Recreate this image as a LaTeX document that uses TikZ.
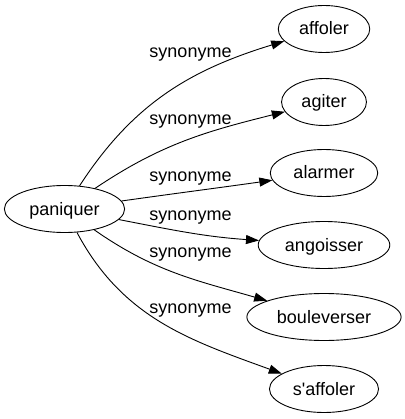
\documentclass[tikz,border=0pt]{standalone}
\usepackage{fontspec}
\setmainfont{Liberation Sans}
\usetikzlibrary{shapes.geometric,arrows.meta}
\begin{document}
\begin{tikzpicture}[x=1pt,y=1pt,
	word/.style={draw, ellipse, line width=0.9pt, inner xsep=7.5pt, inner ysep=2pt, minimum height=47pt, text height=12pt, text depth=0pt, font=\fontsize{18}{20}\selectfont},
	rel/.style={font=\fontsize{18}{20}\selectfont, anchor=base, inner sep=0pt},
	syn/.style={-{Triangle[length=13pt,width=9pt]}, line width=0.9pt}]
	\useasboundingbox (0,0) rectangle (404,-419);
	\node[word] (paniquer) at (64.5,-209) {paniquer};
	\node[word] (affoler) at (324,-29) {affoler};
	\node[word] (agiter) at (324,-102) {agiter};
	\node[word] (alarmer) at (324,-173) {alarmer};
	\node[word] (angoisser) at (324,-245) {angoisser};
	\node[word] (bouleverser) at (324,-317) {bouleverser};
	\node[word] (saffoler) at (324,-389) {s\textquotesingle affoler};
	\draw[syn] (paniquer) to[out=57,in=197] (affoler);
	\draw[syn] (paniquer) to[out=34,in=194] (agiter);
	\draw[syn] (paniquer) to[out=8,in=188] (alarmer);
	\draw[syn] (paniquer) to[out=-11,in=176] (angoisser);
	\draw[syn] (paniquer) to[out=-35,in=164] (bouleverser);
	\draw[syn] (paniquer) to[out=-62,in=160] (saffoler);
	\node[rel] (syn1) at (190.5,-58) {synonyme};
	\node[rel] (syn2) at (190.5,-125) {synonyme};
	\node[rel] (syn3) at (190.5,-182) {synonyme};
	\node[rel] (syn4) at (190.5,-220) {synonyme};
	\node[rel] (syn5) at (190.5,-257) {synonyme};
	\node[rel] (syn6) at (190.5,-313) {synonyme};
\end{tikzpicture}
\end{document}
